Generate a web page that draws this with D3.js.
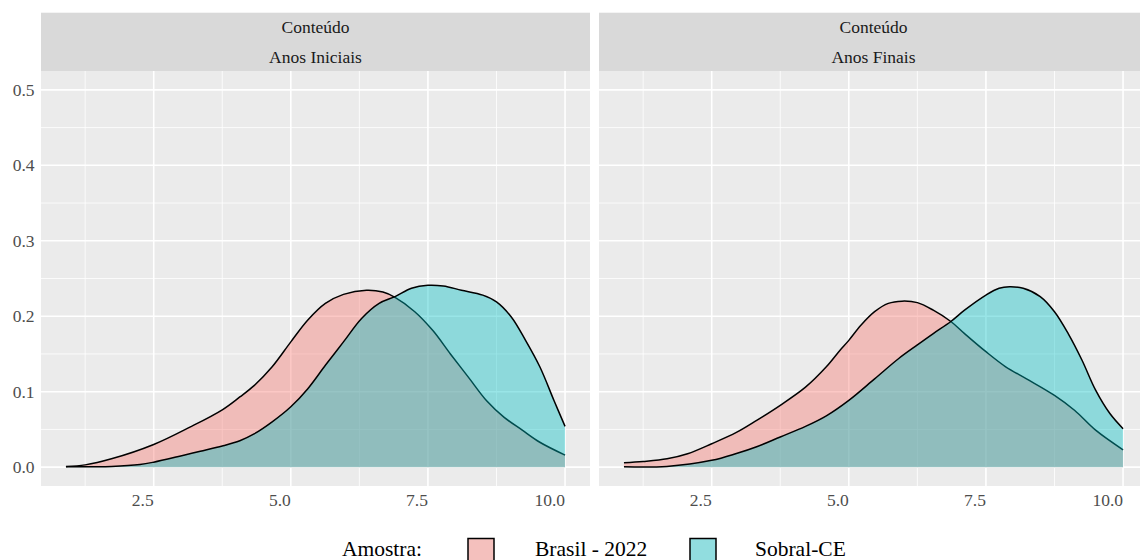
<!DOCTYPE html>
<html>
<head>
<meta charset="utf-8">
<script src="https://cdn.jsdelivr.net/npm/d3@7"></script>
<style>
  body { margin: 0; background: #fff; }
  svg { display: block; }
  text { font-family: "Liberation Serif", "DejaVu Serif", serif; }
</style>
</head>
<body>
<svg id="chart" width="1140" height="560"></svg>
<script>
// ---- data ----------------------------------------------------------
const groups = ["Brasil - 2022", "Sobral-CE"];
const groupColors = ["#F8766D", "#00BFC4"];
const facetHeader = "Conteúdo";
const facets = ["Anos Iniciais", "Anos Finais"];
const xTicks = [2.5, 5.0, 7.5, 10.0];
const xMinor = [1.25, 3.75, 6.25, 8.75];
const yTicks = [0.0, 0.1, 0.2, 0.3, 0.4, 0.5];
const yMinor = [0.05, 0.15, 0.25, 0.35, 0.45];
const legendTitle = "Amostra:";

// density estimates: [nota, densidade]
const iniciaisBrasil = [
  [0.9, 0.001], [1.25, 0.003], [1.73, 0.011], [2.5, 0.030], [3.16, 0.053],
  [3.75, 0.076], [4.07, 0.093], [4.33, 0.108], [4.66, 0.133], [5.0, 0.166],
  [5.31, 0.195], [5.63, 0.217], [5.96, 0.229], [6.38, 0.2345], [6.68, 0.232],
  [6.9, 0.225], [7.26, 0.206], [7.59, 0.181], [7.91, 0.150], [8.24, 0.119],
  [8.57, 0.088], [8.89, 0.066], [9.22, 0.049], [9.54, 0.033], [10.0, 0.016]
];
const iniciaisSobral = [
  [0.9, 0.0005], [1.73, 0.001], [2.25, 0.0035], [2.5, 0.0066], [3.03, 0.0155],
  [3.35, 0.021], [3.75, 0.028], [4.07, 0.035], [4.33, 0.044], [4.66, 0.060],
  [5.0, 0.080], [5.31, 0.104], [5.63, 0.135], [5.96, 0.166], [6.29, 0.197],
  [6.61, 0.217], [6.9, 0.226], [7.2, 0.237], [7.5, 0.241], [7.78, 0.240],
  [8.11, 0.2345], [8.5, 0.228], [8.75, 0.219], [9.02, 0.199], [9.28, 0.168],
  [9.54, 0.133], [9.8, 0.088], [10.0, 0.054]
];
const finaisBrasil = [
  [0.9, 0.0058], [1.25, 0.0075], [1.685, 0.011], [2.06, 0.0177], [2.5, 0.031],
  [2.95, 0.046], [3.32, 0.062], [3.75, 0.082], [4.21, 0.106], [4.59, 0.133],
  [4.84, 0.155], [5.0, 0.168], [5.22, 0.188], [5.47, 0.206], [5.72, 0.217],
  [5.97, 0.220], [6.25, 0.218], [6.54, 0.208], [6.86, 0.193], [7.11, 0.177],
  [7.5, 0.153], [7.86, 0.133], [8.24, 0.117], [8.75, 0.095], [9.12, 0.075],
  [9.5, 0.049], [10.0, 0.023]
];
const finaisSobral = [
  [0.9, 0.0005], [1.68, 0.001], [2.5, 0.009], [2.95, 0.018], [3.32, 0.027],
  [3.75, 0.040], [4.21, 0.054], [4.59, 0.068], [5.0, 0.0885], [5.47, 0.117],
  [5.91, 0.144], [6.25, 0.162], [6.54, 0.177], [6.86, 0.193], [7.11, 0.208],
  [7.5, 0.228], [7.74, 0.237], [7.93, 0.239], [8.18, 0.237], [8.49, 0.226],
  [8.75, 0.206], [9.0, 0.177], [9.25, 0.142], [9.5, 0.102], [9.76, 0.071],
  [10.0, 0.051]
];
const panelSeries = [
  [iniciaisBrasil, iniciaisSobral],
  [finaisBrasil, finaisSobral]
];

// ---- layout --------------------------------------------------------
const svg = d3.select("#chart");
const panelLefts = [41, 599];
const panelWidth = 549;
const stripTop = 12.7, panelTop = 71, panelBottom = 486;

const x = d3.scaleLinear().domain([0.445, 10.455]).range([0, panelWidth]);
const y = d3.scaleLinear().domain([-0.025, 0.525]).range([panelBottom, panelTop]);

const smooth = d3.curveCatmullRom.alpha(0.5);
const area = d3.area()
  .x(d => x(d[0])).y0(y(0)).y1(d => y(d[1]))
  .curve(smooth);
const line = d3.line()
  .x(d => x(d[0])).y(d => y(d[1]))
  .curve(smooth);

facets.forEach((facet, i) => {
  const g = svg.append("g").attr("transform", `translate(${panelLefts[i]},0)`);

  // strip
  g.append("rect").attr("x", 0).attr("y", stripTop)
    .attr("width", panelWidth).attr("height", panelTop - stripTop)
    .attr("fill", "#D9D9D9");
  g.append("text").attr("x", panelWidth / 2).attr("y", 33.3)
    .attr("text-anchor", "middle").attr("font-size", 17.5).attr("fill", "#1A1A1A")
    .text(facetHeader);
  g.append("text").attr("x", panelWidth / 2).attr("y", 63.3)
    .attr("text-anchor", "middle").attr("font-size", 17.5).attr("fill", "#1A1A1A")
    .text(facet);

  // panel background + grid
  g.append("rect").attr("x", 0).attr("y", panelTop)
    .attr("width", panelWidth).attr("height", panelBottom - panelTop)
    .attr("fill", "#EBEBEB");
  const grid = g.append("g").attr("stroke", "#fff");
  grid.selectAll(".ymin").data(yMinor).join("line")
    .attr("x1", 0).attr("x2", panelWidth)
    .attr("y1", d => y(d)).attr("y2", d => y(d)).attr("stroke-width", 0.8);
  grid.selectAll(".xmin").data(xMinor).join("line")
    .attr("y1", panelTop).attr("y2", panelBottom)
    .attr("x1", d => x(d)).attr("x2", d => x(d)).attr("stroke-width", 0.8);
  grid.selectAll(".ymaj").data(yTicks).join("line")
    .attr("x1", 0).attr("x2", panelWidth)
    .attr("y1", d => y(d)).attr("y2", d => y(d)).attr("stroke-width", 1.6);
  grid.selectAll(".xmaj").data(xTicks).join("line")
    .attr("y1", panelTop).attr("y2", panelBottom)
    .attr("x1", d => x(d)).attr("x2", d => x(d)).attr("stroke-width", 1.6);

  // densities
  panelSeries[i].forEach((series, k) => {
    g.append("path").datum(series).attr("d", area)
      .attr("fill", groupColors[k]).attr("fill-opacity", 0.4);
    g.append("path").datum(series).attr("d", line)
      .attr("fill", "none").attr("stroke", "#000").attr("stroke-width", 1.5);
  });

  // x tick labels
  g.selectAll(".xlab").data(xTicks).join("text")
    .attr("x", d => x(d)).attr("y", 505.5)
    .attr("text-anchor", "end").attr("font-size", 17.5).attr("fill", "#4D4D4D")
    .text(d => d3.format(".1f")(d));
});

// y tick labels
svg.selectAll(".ylab").data(yTicks).join("text")
  .attr("x", 34.5).attr("y", d => y(d)).attr("dy", "0.35em")
  .attr("text-anchor", "end").attr("font-size", 17.5).attr("fill", "#4D4D4D")
  .text(d => d3.format(".1f")(d));

// legend
const legend = svg.append("g");
const legendBaseline = 555.5;
legend.append("text").attr("x", 342).attr("y", legendBaseline)
  .attr("font-size", 21.5).attr("fill", "#000").text(legendTitle);
const keyX = [468, 690], labelX = [535, 755];
groups.forEach((name, k) => {
  legend.append("rect").attr("x", keyX[k]).attr("y", 538.5)
    .attr("width", 26).attr("height", 26).attr("fill", "#F2F2F2");
  legend.append("rect").attr("x", keyX[k]).attr("y", 538.5)
    .attr("width", 26).attr("height", 26)
    .attr("fill", groupColors[k]).attr("fill-opacity", 0.4)
    .attr("stroke", "#000").attr("stroke-width", 1.5);
  legend.append("text").attr("x", labelX[k]).attr("y", legendBaseline)
    .attr("font-size", 21.5).attr("fill", "#000").text(name);
});
</script>
</body>
</html>
